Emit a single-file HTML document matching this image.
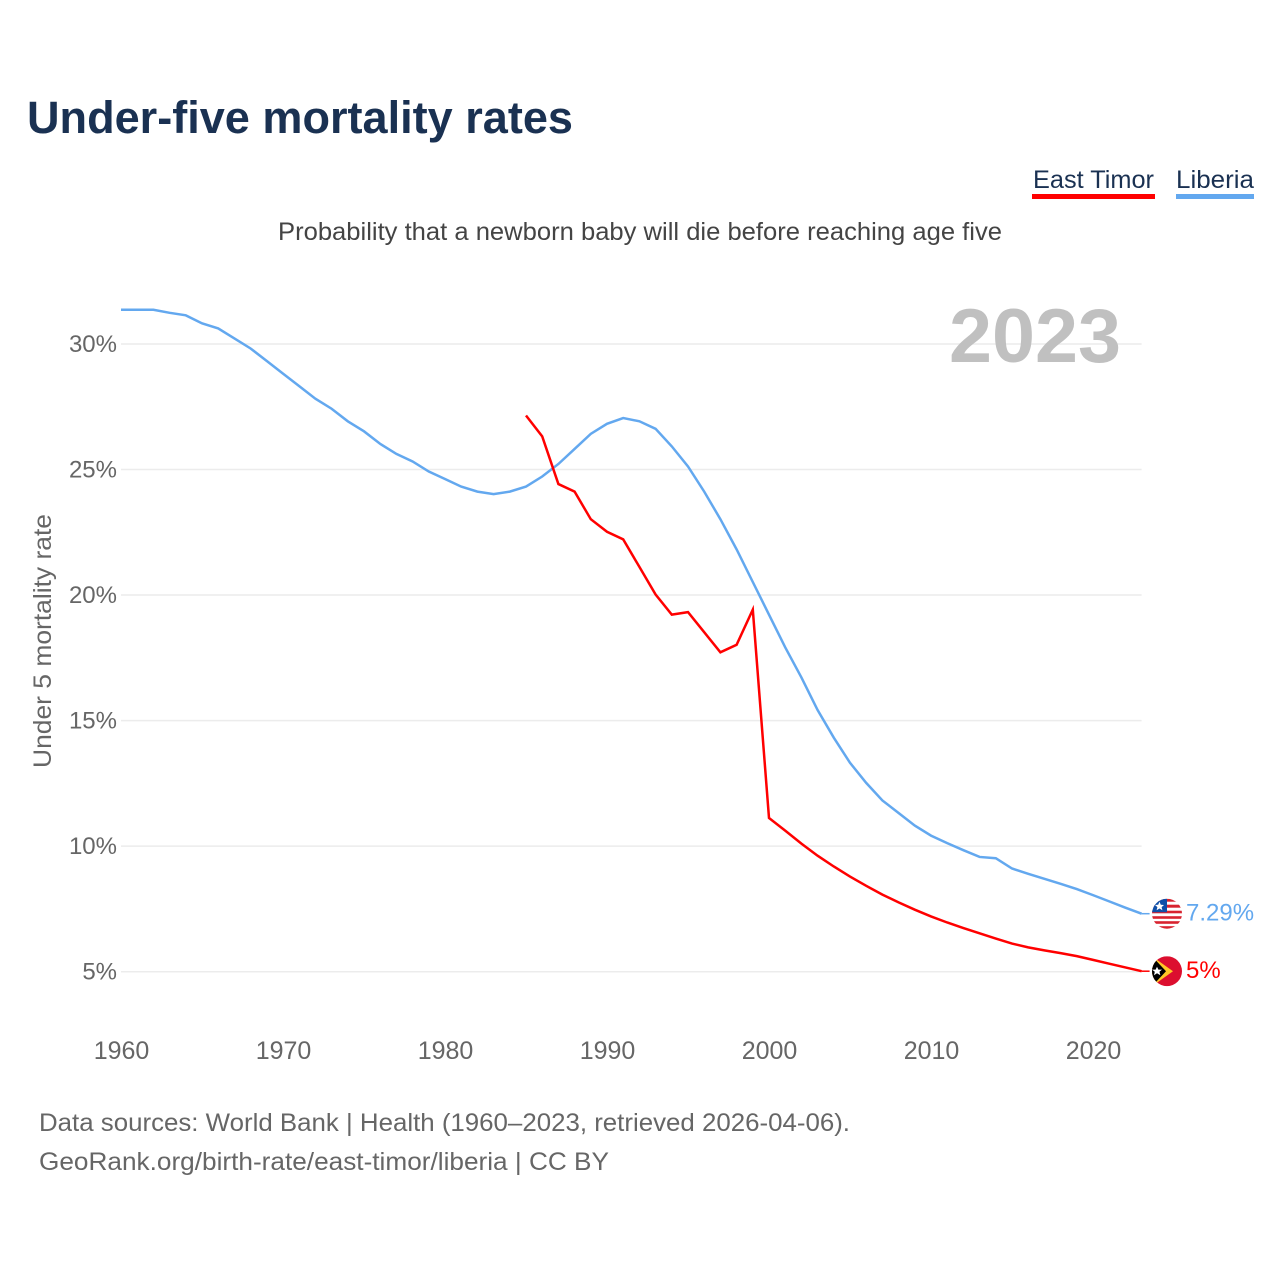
<!DOCTYPE html>
<html lang="en">
<head>
<meta charset="utf-8">
<title>Under-five mortality rates</title>
<style>
html,body{margin:0;padding:0;background:#fff;width:1280px;height:1280px;overflow:hidden}
svg{display:block}
text{font-family:"Liberation Sans",sans-serif}
</style>
</head>
<body>
<svg id="chart" xmlns="http://www.w3.org/2000/svg" width="1280" height="1280" viewBox="0 0 1280 1280">
  <defs>
    <clipPath id="flag-clip"><circle cx="0" cy="0" r="15"/></clipPath>
  </defs>
  <text x="27" y="133" font-size="45" font-weight="700" fill="#1a3152" textLength="546" lengthAdjust="spacingAndGlyphs">Under-five mortality rates</text>
  <text x="1033" y="188" font-size="25" fill="#1a3152" textLength="121" lengthAdjust="spacingAndGlyphs">East Timor</text>
  <rect x="1032" y="194" width="123" height="5" fill="#ff0000"/>
  <text x="1176" y="188" font-size="25" fill="#1a3152" textLength="78" lengthAdjust="spacingAndGlyphs">Liberia</text>
  <rect x="1176" y="194" width="78" height="5" fill="#63a8ef"/>
  <text x="278" y="240" font-size="25" fill="#444444" textLength="724" lengthAdjust="spacingAndGlyphs">Probability that a newborn baby will die before reaching age five</text>
  <g id="grid"></g>
  <text x="949" y="362" font-size="76" font-weight="700" fill="#c0c0c0" textLength="172" lengthAdjust="spacingAndGlyphs">2023</text>
  <g id="y-axis"></g>
  <g id="x-axis"></g>
  <text transform="translate(51,768) rotate(-90)" x="0" y="0" font-size="25" fill="#666666" textLength="254" lengthAdjust="spacingAndGlyphs">Under 5 mortality rate</text>
  <g id="series" transform="translate(0,-0.5)"></g>

  <g id="flag-liberia">
    <g clip-path="url(#flag-clip)">
      <rect x="-15" y="-15" width="30" height="30" fill="#ffffff"/>
      <rect x="-15" y="-15" width="30" height="3" fill="#d8232f"/>
      <rect x="-15" y="-9" width="30" height="3" fill="#d8232f"/>
      <rect x="-15" y="-3" width="30" height="2.6" fill="#d8232f"/>
      <rect x="-15" y="2.5" width="30" height="2.6" fill="#d8232f"/>
      <rect x="-15" y="7.5" width="30" height="2.6" fill="#d8232f"/>
      <rect x="-15" y="12.5" width="30" height="3" fill="#d8232f"/>
      <rect x="-15" y="-15" width="15" height="13.5" fill="#0f4fa8"/>
      <polygon points="-7.5,-12 -6.2,-8.9 -3,-8.7 -5.4,-6.6 -4.6,-3.5 -7.5,-5.2 -10.4,-3.5 -9.6,-6.6 -12,-8.7 -8.8,-8.9" fill="#ffffff"/>
    </g>
  </g>
  <g id="flag-east-timor">
    <g clip-path="url(#flag-clip)">
      <rect x="-15" y="-15" width="30" height="30" fill="#dc0f2f"/>
      <polygon points="-15,-15 6,0 -15,15" fill="#ffc726"/>
      <polygon points="-15,-15 -1,0 -15,15" fill="#000000"/>
      <polygon points="-10,-4.5 -8.6,-1.6 -5,-1.6 -7.6,0.6 -6.6,4 -10,2 -13,4 -12.2,0.6 -15,-1.6 -11.4,-1.6" fill="#ffffff"/>
    </g>
  </g>

  <text x="39" y="1131" font-size="25" fill="#666666" textLength="811" lengthAdjust="spacingAndGlyphs">Data sources: World Bank | Health (1960–2023, retrieved 2026-04-06).</text>
  <text x="39" y="1170" font-size="25" fill="#666666" textLength="570" lengthAdjust="spacingAndGlyphs">GeoRank.org/birth-rate/east-timor/liberia | CC BY</text>
</svg>
<script>
const xTickYears = [1960, 1970, 1980, 1990, 2000, 2010, 2020];
const yTickValues = [5, 10, 15, 20, 25, 30];
const liberiaStartYear = 1960;
const liberiaValues = [31.34, 31.34, 31.34, 31.22, 31.12, 30.8, 30.6, 30.2, 29.8, 29.3, 28.8, 28.3, 27.8, 27.4, 26.9, 26.5, 26.0, 25.6, 25.3, 24.9, 24.6, 24.3, 24.1, 24.0, 24.1, 24.3, 24.7, 25.2, 25.8, 26.4, 26.8, 27.03, 26.9, 26.6, 25.9, 25.1, 24.1, 23.0, 21.8, 20.5, 19.2, 17.9, 16.7, 15.4, 14.3, 13.3, 12.5, 11.8, 11.3, 10.8, 10.4, 10.1, 9.82, 9.55, 9.5, 9.09, 8.88, 8.68, 8.48, 8.27, 8.03, 7.78, 7.53, 7.29];
const eastTimorStartYear = 1985;
const eastTimorValues = [27.13, 26.3, 24.4, 24.1, 23.0, 22.5, 22.2, 21.1, 20.0, 19.2, 19.3, 18.5, 17.7, 18.0, 19.4, 11.1, 10.6, 10.08, 9.6, 9.17, 8.77, 8.4, 8.05, 7.74, 7.45, 7.18, 6.94, 6.72, 6.51, 6.3, 6.1, 5.95, 5.83, 5.72, 5.6, 5.45, 5.3, 5.15, 5.0];

const NS = 'http://www.w3.org/2000/svg';
const BLUE = '#63a8ef';
const RED = '#ff0000';
function xScale(year) { return 121 + (year - 1960) * 16.2; }
function yScale(value) { return 971.7 - (value - 5) * 25.11; }
function make(tag, attrs, parent, content) {
  const el = document.createElementNS(NS, tag);
  for (const k in attrs) el.setAttribute(k, attrs[k]);
  if (content !== undefined) el.textContent = content;
  parent.appendChild(el);
  return el;
}
const grid = document.getElementById('grid');
const yAxis = document.getElementById('y-axis');
const xAxis = document.getElementById('x-axis');
const seriesGroup = document.getElementById('series');
const chart = document.getElementById('chart');

yTickValues.forEach(function (v) {
  const line = make('line', { x1: xScale(1960), x2: xScale(2023), y1: yScale(v), y2: yScale(v), stroke: '#ececec', 'stroke-width': 1.5 }, grid);
  
  
  const label = make('text', { x: 117, y: yScale(v) + 8, 'text-anchor': 'end', 'font-size': 24, fill: '#666666' }, yAxis, v + '%');
  
  
});
xTickYears.forEach(function (yr) {
  const label = make('text', { x: xScale(yr) + 0.5, y: 1059, 'text-anchor': 'middle', 'font-size': 25, fill: '#666666' }, xAxis, String(yr));
  
  
});
function drawSeries(values, startYear, color, name) {
  const pts = values.map(function (v, i) { return xScale(startYear + i) + ',' + yScale(v); });
  const lastYear = startYear + values.length - 1;
  const lastValue = values[values.length - 1];
  const lastY = yScale(lastValue);
  const poly = make('polyline', { points: pts.join(' '), fill: 'none', stroke: color, 'stroke-width': 2.5, 'stroke-linejoin': 'miter' }, seriesGroup);
  
  
  const conn = make('line', { x1: xScale(lastYear), x2: xScale(lastYear) + 8, y1: lastY, y2: lastY, stroke: color, 'stroke-width': 1.5 }, seriesGroup);
  
  
  const end = make('text', { x: 1186, y: lastY + 6.5, 'font-size': 24, fill: color }, chart, lastValue + '%');
  
  
  document.getElementById('flag-' + name).setAttribute('transform', 'translate(1167,' + (lastY - 0.5) + ')');
}
drawSeries(liberiaValues, liberiaStartYear, BLUE, 'liberia');
drawSeries(eastTimorValues, eastTimorStartYear, RED, 'east-timor');
</script>
</body>
</html>
